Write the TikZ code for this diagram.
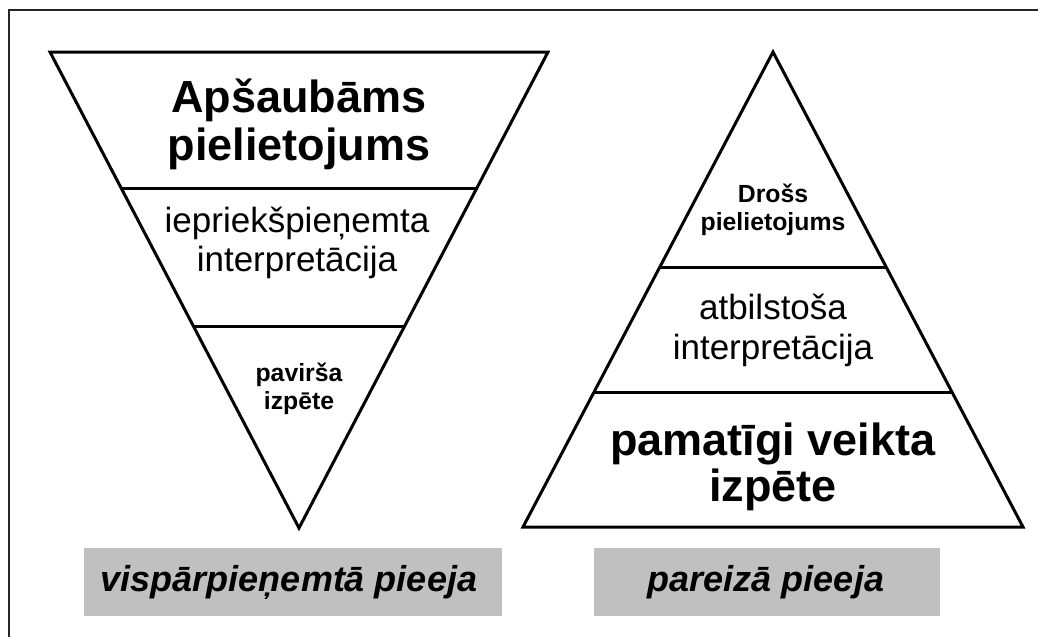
\documentclass[tikz,border=0pt]{standalone}
\usepackage{fontspec}
\setmainfont{Liberation Sans}
\definecolor{boxgray}{HTML}{C0C0C0}
\begin{document}
\begin{tikzpicture}[x=0.75pt,y=-0.75pt,
  frame/.style={line width=1pt, draw=black!85},
  tri/.style={line width=2.25pt, line join=miter, draw=black},
  divider/.style={line width=2.25pt, draw=black},
  bigtxt/.style={font=\bfseries\fontsize{33.75}{36}\selectfont, align=center, inner sep=0pt},
  midtxt/.style={font=\fontsize{26.25}{29.5}\selectfont, align=center, inner sep=0pt},
  smalltxt/.style={font=\bfseries\fontsize{18.6}{21}\selectfont, align=center, inner sep=0pt},
  labelbox/.style={fill=boxgray, inner sep=0pt},
  labeltxt/.style={font=\bfseries\itshape\fontsize{27}{30}\selectfont, inner sep=0pt}]
\useasboundingbox (0,0) rectangle (1038,636);
\clip (0,0) rectangle (1038,636);
\draw[frame] (9,10) rectangle (1060,660);

% inverted triangle
\coordinate (LA) at (50,52);
\coordinate (LB) at (548,52);
\coordinate (LC) at (299,528);
\draw[tri] (LA) -- (LB) -- (LC) -- cycle;
\coordinate (L1a) at (121.1,188);
\coordinate (L1b) at (476.9,188);
\coordinate (L2a) at (193.3,326);
\coordinate (L2b) at (404.7,326);
\draw[divider] (L1a) -- (L1b);
\draw[divider] (L2a) -- (L2b);

% upright triangle
\coordinate (RA) at (773,52);
\coordinate (RB) at (1023,527);
\coordinate (RC) at (523,527);
\draw[tri] (RA) -- (RB) -- (RC) -- cycle;
\coordinate (R1a) at (659.8,267);
\coordinate (R1b) at (886.2,267);
\coordinate (R2a) at (594.1,392);
\coordinate (R2b) at (951.9,392);
\draw[divider] (R1a) -- (R1b);
\draw[divider] (R2a) -- (R2b);

% texts left
\node[bigtxt] (apsaub) at (299,124) {Apšaubāms\\pielietojums};
\node[midtxt] (iepr) at (297,243) {iepriekšpieņemta\\interpretācija};
\node[smalltxt] (pavir) at (299,389) {pavirša\\izpēte};

% texts right
\node[smalltxt] (dross) at (773,210) {Drošs\\pielietojums};
\node[midtxt, font=\fontsize{26.25}{30}\selectfont] (atbil) at (773,330) {atbilstoša\\interpretācija};
\node[bigtxt, font=\bfseries\fontsize{33.75}{35}\selectfont] (pamat) at (773,467) {pamatīgi veikta\\izpēte};

% label boxes
\fill[boxgray] (84,548) rectangle (502,616);
\fill[boxgray] (594,548) rectangle (940,616);
\node[labeltxt] (lblL) at (289,582) {vispārpieņemtā pieeja};
\node[labeltxt] (lblR) at (766,582) {pareizā pieeja};
\end{tikzpicture}
\end{document}
